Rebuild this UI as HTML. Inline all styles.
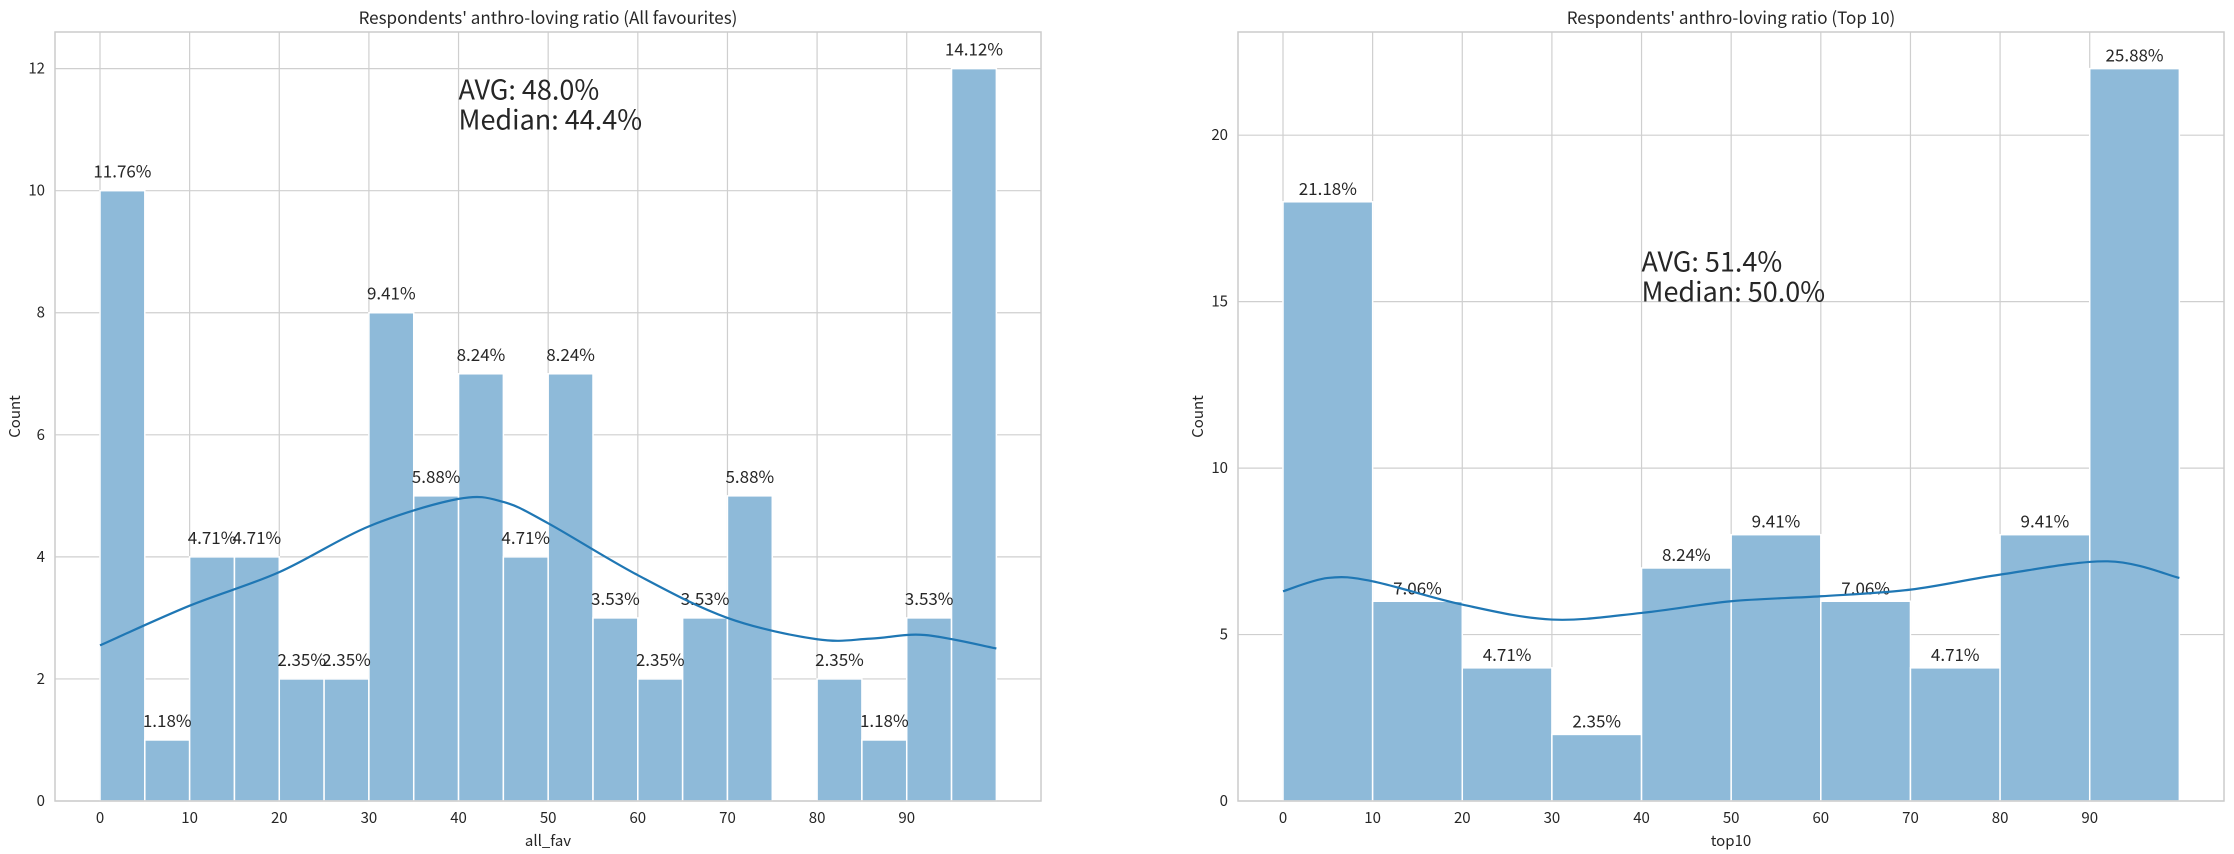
<!DOCTYPE html>
<html><head><meta charset="utf-8"><style>
html,body{margin:0;padding:0;background:#fff;}
svg{display:block;font-family:"Noto Sans CJK JP","Liberation Sans",sans-serif;}
</style></head><body>
<svg id="s" width="2234" height="854" xmlns="http://www.w3.org/2000/svg"></svg>
<script>
const S=document.getElementById('s');let h='';
function plot(o){
 const L=o.L,R=o.R,T=32,B=801,x0=o.x0,xs=(R-L)/110,ys=(B-T)/o.ymax;
 const X=v=>x0+v*xs,Y=v=>B-v*ys;
 for(let t=0;t<=90;t+=10){h+=`<line x1="${X(t)}" y1="${T}" x2="${X(t)}" y2="${B}" stroke="#cfcfcf" stroke-width="1.2"/>`;
  h+=`<text x="${X(t)}" y="823" font-size="15" text-anchor="middle" fill="#262626">${t}</text>`;}
 for(const t of o.yt){h+=`<line x1="${L}" y1="${Y(t)}" x2="${R}" y2="${Y(t)}" stroke="#cfcfcf" stroke-width="1.2"/>`;
  h+=`<text x="${L-10}" y="${Y(t)+5}" font-size="15" text-anchor="end" fill="#262626">${t}</text>`;}
 const w=o.bw;
 o.c.forEach((c,i)=>{if(!c)return;const a=X(i*w),b=X((i+1)*w);
  h+=`<rect x="${a}" y="${Y(c)}" width="${b-a}" height="${c*ys}" fill="#8ebad9" stroke="#fff" stroke-width="1.5"/>`;});
 o.c.forEach((c,i)=>{if(!c)return;
  h+=`<text x="${X(i*w+w/2)}" y="${Y(c)-o.lo}" font-size="17" text-anchor="middle" fill="#262626">${(c/85*100).toFixed(2)}%</text>`;});
 const p=o.k;let d='';
 for(let i=0;i<p.length-1;i++){const [xa,ya]=p[i],[xb,yb]=p[i+1];
  const pm=p[i-1]||p[i],pn=p[i+2]||p[i+1];
  const c1x=xa+(xb-pm[0])/6,c1y=ya+(yb-pm[1])/6,c2x=xb-(pn[0]-xa)/6,c2y=yb-(pn[1]-ya)/6;
  if(i==0)d+=`M${X(xa)},${Y(ya)}`;
  d+=` C${X(c1x)},${Y(c1y)} ${X(c2x)},${Y(c2y)} ${X(xb)},${Y(yb)}`;}
 h+=`<path d="${d}" fill="none" stroke="#1f77b4" stroke-width="2.2"/>`;
 h+=`<rect x="${L}" y="${T}" width="${R-L}" height="${B-T}" fill="none" stroke="#cccccc" stroke-width="1.5"/>`;
 h+=`<text x="${(L+R)/2}" y="24" font-size="17" text-anchor="middle" fill="#262626">${o.title}</text>`;
 h+=`<text x="${(L+R)/2}" y="846" font-size="15" text-anchor="middle" fill="#262626">${o.xl}</text>`;
 h+=`<text transform="translate(${o.yl},${(T+B)/2}) rotate(-90)" font-size="15" text-anchor="middle" fill="#262626">Count</text>`;
 h+=`<text x="${X(40)}" y="${Y(o.ty)-30}" font-size="27" fill="#262626">${o.avg}</text>`;
 h+=`<text x="${X(40)}" y="${Y(o.ty)}" font-size="27" fill="#262626">${o.med}</text>`;
}
plot({L:55,R:1041,x0:100,ymax:12.6,yt:[0,2,4,6,8,10,12],bw:5,lo:13,
 c:[10,1,4,4,2,2,8,5,7,4,7,3,2,3,5,0,2,1,3,12],
 k:[[0,2.55],[10,3.2],[20,3.75],[30,4.5],[40,4.95],[45,4.9],[50,4.55],[60,3.7],[70,3.0],[80,2.65],[86,2.66],[92,2.72],[100,2.5]],
 title:"Respondents' anthro-loving ratio (All favourites)",xl:"all_fav",yl:20,ty:11,avg:"AVG: 48.0%",med:"Median: 44.4%"});
plot({L:1238,R:2224,x0:1283,ymax:23.1,yt:[0,5,10,15,20],bw:10,lo:7,
 c:[18,6,4,2,7,8,6,4,8,22],
 k:[[0,6.3],[5,6.7],[10,6.6],[20,5.9],[30,5.45],[40,5.65],[50,6.0],[60,6.15],[70,6.35],[80,6.8],[92,7.2],[100,6.7]],
 title:"Respondents' anthro-loving ratio (Top 10)",xl:"top10",yl:1203,ty:15,avg:"AVG: 51.4%",med:"Median: 50.0%"});
S.innerHTML=h;
</script>
</body></html>
